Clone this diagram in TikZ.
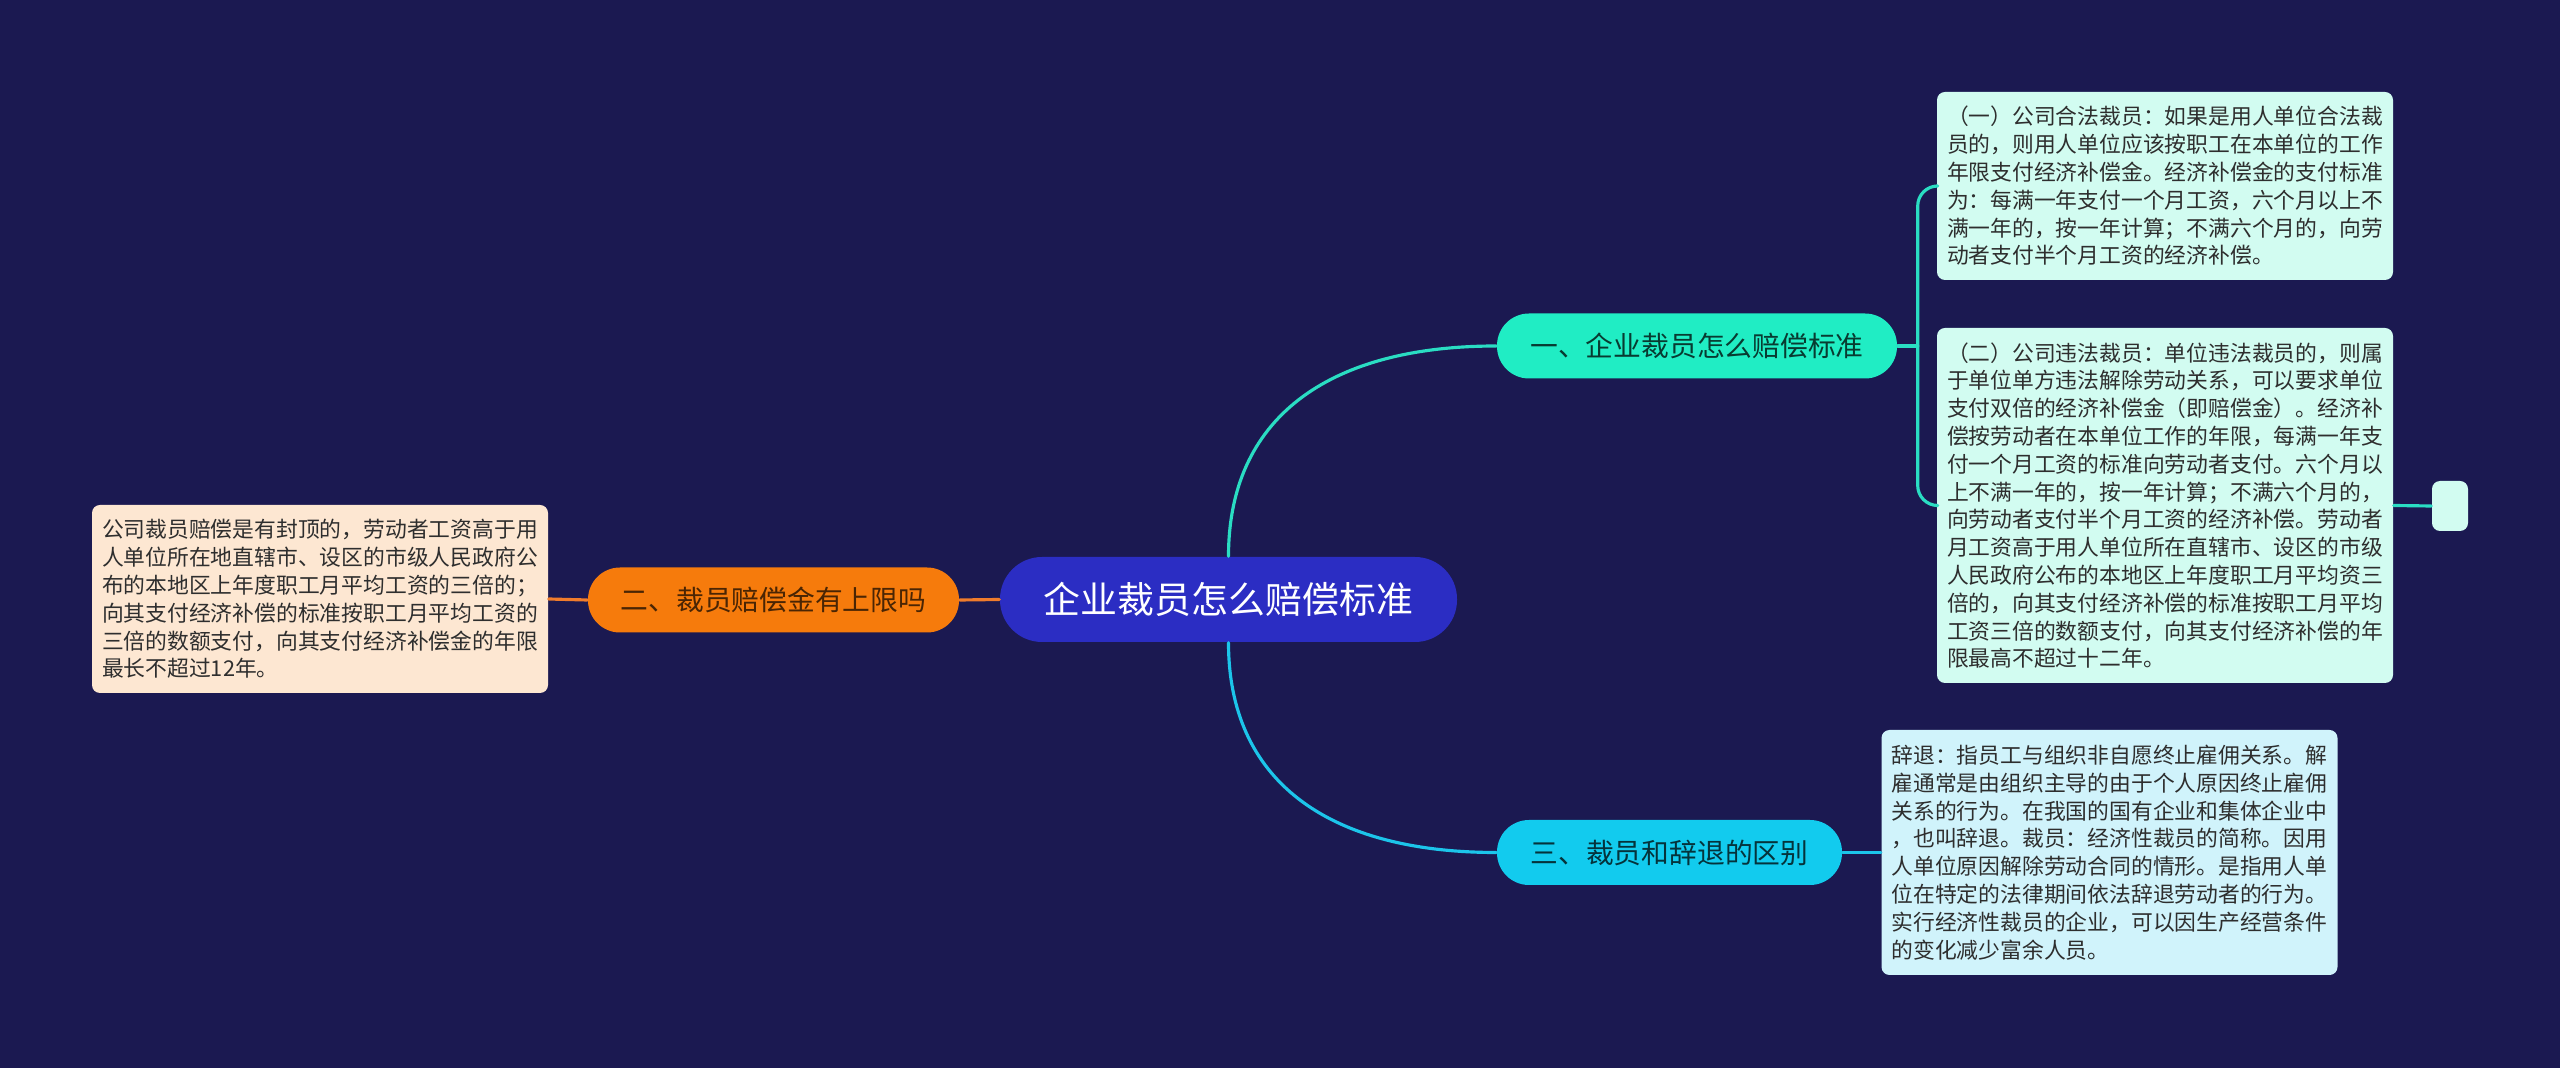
\documentclass[tikz,border=0pt]{standalone}
\usepackage{fontspec}
\setmainfont{Noto Sans CJK SC}
\definecolor{bgnavy}{HTML}{1B1951}
\definecolor{rootblue}{HTML}{2B2DC3}
\definecolor{aqua}{HTML}{20EDC4}
\definecolor{aqualine}{HTML}{2ADDC3}
\definecolor{skyblue}{HTML}{12CBEE}
\definecolor{skyline}{HTML}{1CC5EA}
\definecolor{orangeb}{HTML}{F67B0C}
\definecolor{orangeline}{HTML}{F07C2C}
\definecolor{peach}{HTML}{FDE7D2}
\definecolor{mint}{HTML}{D2FCF1}
\definecolor{icecyan}{HTML}{D0F3FB}
\definecolor{textgray}{HTML}{2E2E2E}
\begin{document}
\begin{tikzpicture}[line cap=round,line join=round,
  txtbox/.style={rounded corners=0.08cm, text width=4.36cm, inner xsep=0.1cm, inner ysep=0pt,
    minimum height=1.88cm, align=left, text=textgray, font=\fontsize{6.2pt}{7.91pt}\selectfont},
  pill/.style={rounded corners=0.32cm, minimum height=0.65cm, inner sep=0pt,
    font=\fontsize{7.9pt}{9pt}\selectfont},
  link/.style={line width=0.9pt}]
\useasboundingbox (0,0) rectangle (25.6,10.68);
\fill[bgnavy] (0,0) rectangle (25.6,10.68);
\node[fill=rootblue, rounded corners=0.42cm, minimum width=4.57cm, minimum height=0.85cm, inner sep=0pt,
  text=white, font=\fontsize{10.5pt}{12pt}\selectfont] (root) at (12.285,4.685) {企业裁员怎么赔偿标准};
\node[pill, fill=aqua, minimum width=4.00cm, text=black!75!aqua] (stdq) at (16.97,7.22) {一、企业裁员怎么赔偿标准};
\node[pill, fill=orangeb, minimum width=3.71cm, text=black!70!orangeb] (capq) at (7.735,4.68) {二、裁员赔偿金有上限吗};
\node[pill, fill=skyblue, minimum width=3.45cm, text=black!75!skyblue] (diffq) at (16.695,2.155) {三、裁员和辞退的区别};
\node[txtbox, fill=peach] (captxt) at (3.20,4.69) {公司裁员赔偿是有封顶的，劳动者工资高于用\\
人单位所在地直辖市、设区的市级人民政府公\\
布的本地区上年度职工月平均工资的三倍的；\\
向其支付经济补偿的标准按职工月平均工资的\\
三倍的数额支付，向其支付经济补偿金的年限\\
最长不超过12年。};
\node[txtbox, fill=mint] (legal) at (21.65,8.82) {（一）公司合法裁员：如果是用人单位合法裁\\
员的，则用人单位应该按职工在本单位的工作\\
年限支付经济补偿金。经济补偿金的支付标准\\
为：每满一年支付一个月工资，六个月以上不\\
满一年的，按一年计算；不满六个月的，向劳\\
动者支付半个月工资的经济补偿。};
\node[txtbox, fill=mint, minimum height=3.55cm] (illegal) at (21.65,5.625) {（二）公司违法裁员：单位违法裁员的，则属\\
于单位单方违法解除劳动关系，可以要求单位\\
支付双倍的经济补偿金（即赔偿金）。经济补\\
偿按劳动者在本单位工作的年限，每满一年支\\
付一个月工资的标准向劳动者支付。六个月以\\
上不满一年的，按一年计算；不满六个月的，\\
向劳动者支付半个月工资的经济补偿。劳动者\\
月工资高于用人单位所在直辖市、设区的市级\\
人民政府公布的本地区上年度职工月平均资三\\
倍的，向其支付经济补偿的标准按职工月平均\\
工资三倍的数额支付，向其支付经济补偿的年\\
限最高不超过十二年。};
\node[txtbox, fill=icecyan, minimum height=2.45cm] (difftxt) at (21.095,2.155) {辞退：指员工与组织非自愿终止雇佣关系。解\\
雇通常是由组织主导的由于个人原因终止雇佣\\
关系的行为。在我国的国有企业和集体企业中\\
，也叫辞退。裁员：经济性裁员的简称。因用\\
人单位原因解除劳动合同的情形。是指用人单\\
位在特定的法律期间依法辞退劳动者的行为。\\
实行经济性裁员的企业，可以因生产经营条件\\
的变化减少富余人员。};
\node[fill=mint, rounded corners=0.08cm, minimum width=0.36cm, minimum height=0.50cm, inner sep=0pt] (blank) at (24.50,5.62) {};
\draw[link, aqualine] (root.north) .. controls +(0,1.37) and +(-1.7,0) .. (stdq.west);
\draw[link, skyline] (root.south) .. controls +(0,-1.37) and +(-1.7,0) .. (diffq.west);
\draw[link, orangeline] (root.west) -- (capq.east);
\draw[link, orangeline] (capq.west) -- (captxt.east);
\draw[link, aqualine] (stdq.east) -- ++(0.2,0) coordinate (fork);
\draw[link, aqualine, rounded corners=0.2cm] (fork) |- (legal.west);
\draw[link, aqualine, rounded corners=0.2cm] (fork) |- (illegal.west);
\draw[link, aqualine] (illegal.east) -- (blank.west);
\draw[link, skyline] (diffq.east) -- (difftxt.west);
\end{tikzpicture}
\end{document}
